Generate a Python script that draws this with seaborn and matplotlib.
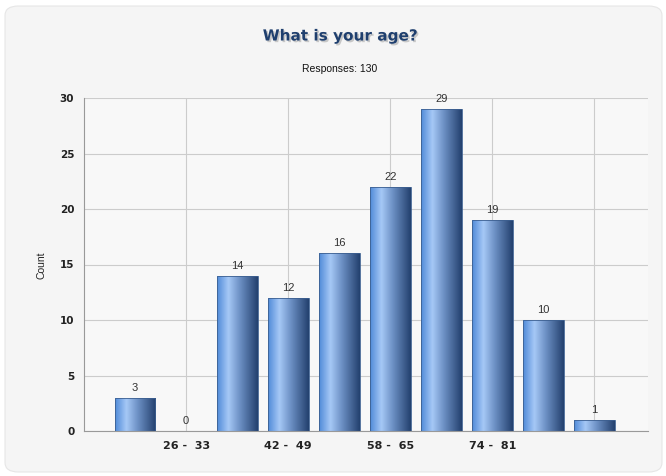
import numpy as np
import pandas as pd
import matplotlib
matplotlib.use("Agg")
import matplotlib.pyplot as plt
import matplotlib.patheffects as pe
from matplotlib.patches import FancyBboxPatch
from matplotlib.colors import LinearSegmentedColormap
import seaborn as sns

# Age brackets and response counts
age_groups = ["18 - 25", "26 - 33", "34 - 41", "42 - 49", "50 - 57",
              "58 - 65", "66 - 73", "74 - 81", "82 - 89", "90 - 97"]
counts = [3, 0, 14, 12, 16, 22, 29, 19, 10, 1]
tick_labels = ["26 -  33", "42 -  49", "58 -  65", "74 -  81", ""]
tick_positions = [1, 3, 5, 7, 9]
title = "What is your age?"
subtitle = "Responses: 130"

df = pd.DataFrame({"age": age_groups, "count": counts})

sns.set_theme(style="white")
W, H = 666, 476
fig = plt.figure(figsize=(W / 100, H / 100), dpi=100)
fig.patch.set_facecolor("white")

# Rounded light-gray card behind the chart
card = FancyBboxPatch((5 / W, 4 / H), 657 / W, 466 / H,
                      boxstyle="round,pad=0,rounding_size=0.02",
                      transform=fig.transFigure, facecolor="#f5f5f5",
                      edgecolor="#e6e6e6", linewidth=0.8, zorder=-5)
fig.patches.append(card)

ax = fig.add_axes([84 / W, 1 - 431 / H, (648 - 84) / W, (431 - 98) / H])
ax.set_zorder(2)
ax.set_facecolor("#f8f8f8")

sns.barplot(data=df, x="age", y="count", ax=ax, width=0.8,
            color="#4a80cc", edgecolor="#3c5f90", linewidth=0.6,
            order=age_groups, zorder=3)

# Replace flat fills with a horizontal cylinder-style gradient
grad = LinearSegmentedColormap.from_list(
    "bar", [(0.0, "#4f8ad8"), (0.28, "#a6c8f6"), (0.55, "#6e92c6"),
            (1.0, "#23406e")])
gimg = np.linspace(0, 1, 256).reshape(1, -1)
for patch in list(ax.patches):
    x0, y0 = patch.get_x(), patch.get_y()
    w, h = patch.get_width(), patch.get_height()
    if h <= 0:
        patch.set_visible(False)
        continue
    patch.set_facecolor("none")
    im = ax.imshow(gimg, cmap=grad, aspect="auto",
                   extent=(x0, x0 + w, y0, y0 + h), zorder=2,
                   interpolation="bilinear")
    im.set_clip_path(patch)

# Value labels above bars
for i, v in enumerate(counts):
    ax.text(i, v + 0.45, str(v), ha="center", va="bottom",
            fontsize=8, color="#333333", family="Liberation Sans", zorder=5)

ax.set_xlim(-1, 10.05)
ax.set_ylim(0, 30)
ax.set_yticks(range(0, 31, 5))
ax.set_xticks(tick_positions)
ax.set_xticklabels(tick_labels, fontsize=8, fontweight="bold",
                   color="#222222", family="DejaVu Sans")
for lbl in ax.get_yticklabels():
    lbl.set_fontsize(7.5)
    lbl.set_fontweight("bold")
    lbl.set_color("#222222")

ax.grid(True, color="#cccccc", linewidth=0.8, zorder=0)
ax.set_axisbelow(True)
for s in ["top", "right"]:
    ax.spines[s].set_visible(False)
for s in ["left", "bottom"]:
    ax.spines[s].set_color("#999999")
    ax.spines[s].set_linewidth(0.8)
ax.tick_params(axis="x", direction="inout", length=8, width=0.8,
               color="#444444", pad=3)
ax.tick_params(axis="y", direction="out", length=5, width=0.8,
               color="#444444", pad=2)
ax.set_xlabel("")
ax.set_ylabel("")

fig.text(42 / W, 1 - 265 / H, "Count", rotation=90, ha="center",
         va="center", fontsize=7.5, family="Liberation Sans", color="#222222")

fig.text(340 / W, 1 - 36 / H, title, ha="center", va="center",
         fontsize=11, fontweight="bold", color="#1f3f6e",
         family="DejaVu Sans",
         path_effects=[pe.withSimplePatchShadow(offset=(1.2, -1.2),
                                                shadow_rgbFace="#9a9a9a",
                                                alpha=0.5)])
fig.text(340 / W, 1 - 69 / H, subtitle, ha="center", va="center",
         fontsize=7.5, family="Liberation Sans", color="#111111")

fig.savefig("out.png", dpi=100, facecolor=fig.get_facecolor())
